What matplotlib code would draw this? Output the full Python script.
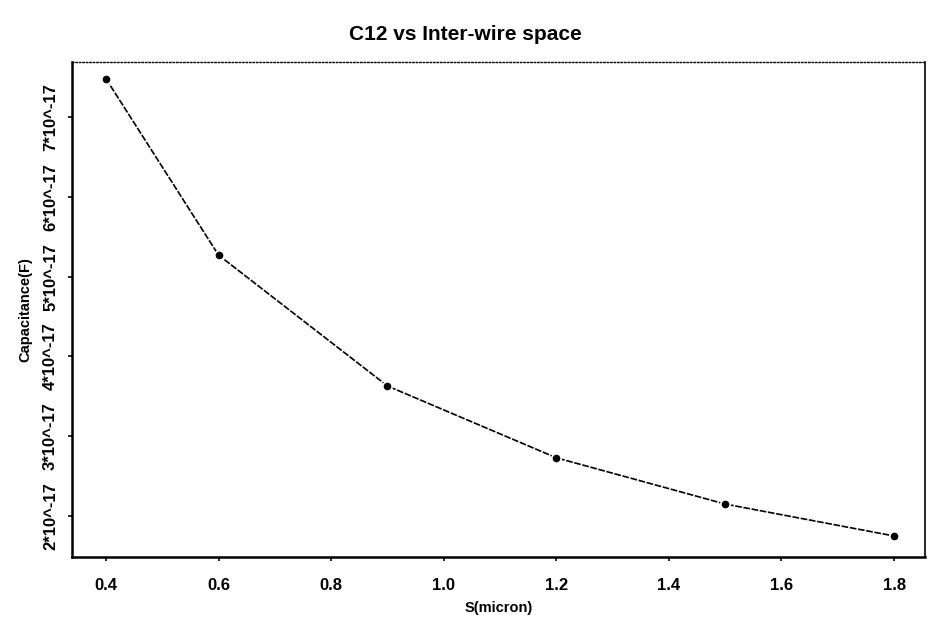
import matplotlib
matplotlib.use("Agg")
import matplotlib.pyplot as plt

# data
s_micron = [0.4, 0.6, 0.9, 1.2, 1.5, 1.8]
c12 = [7.48e-17, 5.27e-17, 3.63e-17, 2.73e-17, 2.15e-17, 1.75e-17]

x_ticks = [0.4, 0.6, 0.8, 1.0, 1.2, 1.4, 1.6, 1.8]
x_labels = ["0.4", "0.6", "0.8", "1.0", "1.2", "1.4", "1.6", "1.8"]
y_ticks = [2e-17, 3e-17, 4e-17, 5e-17, 6e-17, 7e-17]
y_labels = ["2*10^-17", "3*10^-17", "4*10^-17", "5*10^-17", "6*10^-17", "7*10^-17"]

plt.rcParams["font.family"] = ["Liberation Sans", "DejaVu Sans"]

fig = plt.figure(figsize=(9.31, 6.21), dpi=100)
ax = fig.add_axes([0.0773, 0.103, 0.9163, 0.797])

ax.plot(s_micron, c12, color="black", lw=1.2, linestyle=(0, (4, 1)),
        marker="o", markersize=5, markerfacecolor="black",
        markeredgecolor="white", markeredgewidth=3, zorder=3)
ax.plot(s_micron, c12, linestyle="none", marker="o", markersize=4.5,
        color="black", zorder=4)

ax.set_xlim(0.3396, 1.855)
ax.set_ylim(1.486e-17, 7.689e-17)
ax.set_xticks(x_ticks)
ax.set_xticklabels(x_labels, fontsize=12, fontweight="bold")
ax.set_yticks(y_ticks)
ax.set_yticklabels(y_labels, fontsize=12, fontweight="bold",
                   rotation=90, va="center")
ax.tick_params(axis="both", direction="out", length=3, width=1.2, pad=12)
ax.tick_params(axis="y", pad=7)

ax.spines["left"].set_linewidth(1.8)
ax.spines["bottom"].set_linewidth(1.8)
ax.spines["top"].set_linewidth(1.0)
ax.spines["top"].set_linestyle((0, (1, 1.5)))
ax.spines["right"].set_linewidth(1.2)

ax.set_xlabel("S(micron)", fontsize=10.5, fontweight="bold", labelpad=6)
ax.set_ylabel("Capacitance(F)", fontsize=10.5, fontweight="bold", labelpad=8)
fig.suptitle("C12 vs Inter-wire space", fontsize=15, fontweight="bold",
             y=0.96)

fig.savefig("out.png", dpi=100)
